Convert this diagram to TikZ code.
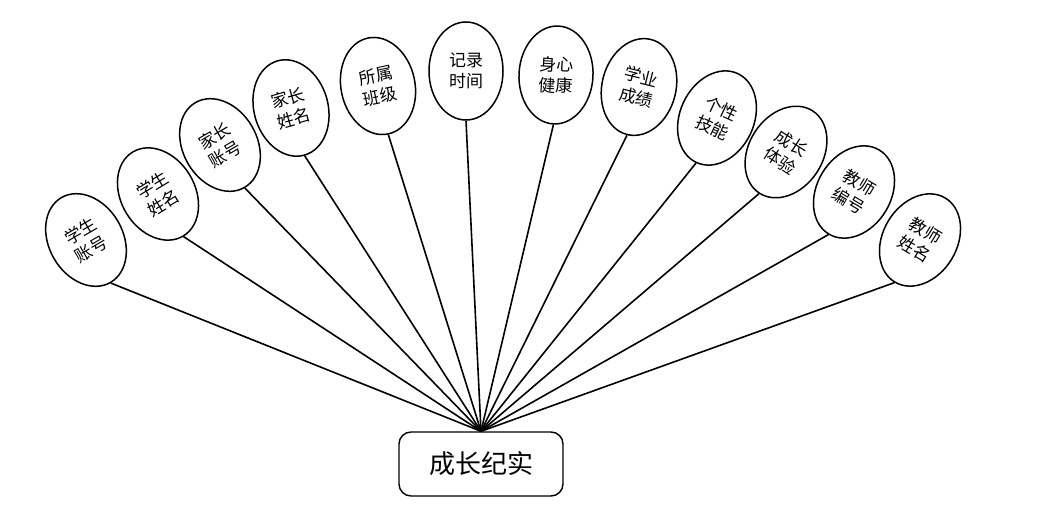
\documentclass[tikz,border=0pt]{standalone}
\usepackage{fontspec}
\newfontfamily\cjk{Noto Sans CJK SC}
\usetikzlibrary{shapes.geometric}
\begin{document}
\begin{tikzpicture}[x=1pt,y=-1pt,
  attr/.style={draw=black, line width=1.5pt, ellipse, minimum width=74pt, minimum height=98pt,
    inner sep=0pt, align=center, font=\cjk\fontsize{17}{21}\selectfont, fill=white},
  mainbox/.style={draw=black, line width=1.4pt, rounded corners=12pt, minimum width=164pt,
    minimum height=64pt, inner sep=0pt, font=\cjk\fontsize{26}{30}\selectfont, fill=white},
  link/.style={draw=black, line width=1.6pt}]
\useasboundingbox (0,0) rectangle (1046,510);
\node[mainbox] (main) at (481,464) {成长纪实};
\coordinate (hub) at (main.north);
\node[attr, rotate=30]  (a1)  at (86,240)  {学生\\账号};
\node[attr, rotate=31]  (a2)  at (158,194) {学生\\姓名};
\node[attr, rotate=30]  (a3)  at (220,145) {家长\\账号};
\node[attr, rotate=16]  (a4)  at (291,108) {家长\\姓名};
\node[attr, rotate=12]  (a5)  at (378,86)  {所属\\班级};
\node[attr, rotate=0]   (a6)  at (466,71)  {记录\\时间};
\node[attr, rotate=-3]  (a7)  at (556,75)  {身心\\健康};
\node[attr, rotate=-14] (a8)  at (639,87)  {学业\\成绩};
\node[attr, rotate=-25] (a9)  at (717,118) {个性\\技能};
\node[attr, rotate=-33] (a10) at (786,152) {成长\\体验};
\node[attr, rotate=-31] (a11) at (854,192) {教师\\编号};
\node[attr, rotate=-31] (a12) at (920,240) {教师\\姓名};
\foreach \i in {1,...,12} {\draw[link] (a\i.south) -- (hub);}
\end{tikzpicture}
\end{document}
